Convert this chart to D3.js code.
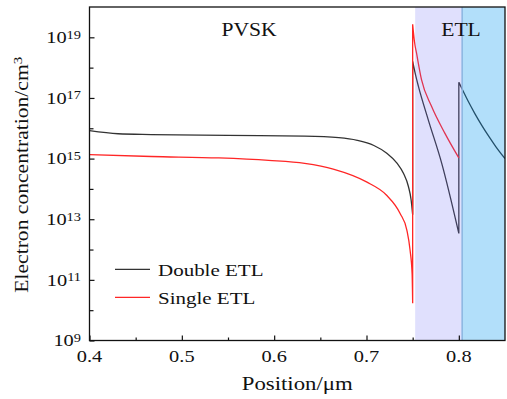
<!DOCTYPE html>
<html>
<head>
<meta charset="utf-8">
<script src="https://cdn.jsdelivr.net/npm/d3@7"></script>
<style>
body { margin: 0; background: #fff; }
</style>
</head>
<body>
<script>
// values (position in um, concentration in cm^-3)
// a repeated x means a vertical jump in the curve
var doubleX = [0.400, 0.431, 0.467, 0.550, 0.633, 0.670, 0.690, 0.708, 0.722, 0.733, 0.740, 0.7454, 0.7483, 0.750,
               0.750, 0.753, 0.7561, 0.7669, 0.7814, 0.800,
               0.800, 0.805, 0.810, 0.8175, 0.825, 0.8325, 0.840, 0.850];
var doubleY = [8.3e15, 6.6e15, 6.2e15, 5.8e15, 5.5e15, 4.9e15, 4.0e15, 2.7e15, 1.5e15, 7.1e14, 3.3e14, 1.2e14, 4.4e13, 1.4e13,
               1.6e18, 6.0e17, 2.5e17, 1.9e16, 7.1e14, 3.4e12,
               3.3e17, 1.6e17, 7.9e16, 3.0e16, 1.23e16, 5.4e15, 2.5e15, 1.0e15];

var singleX = [0.400, 0.467, 0.540, 0.594, 0.633, 0.664, 0.700, 0.7215, 0.7364, 0.7437, 0.7472, 0.7494, 0.750,
               0.750, 0.752, 0.7541, 0.7595, 0.7703, 0.7848, 0.800];
var singleY = [1.35e15, 1.17e15, 1.05e15, 8.7e14, 6.9e14, 4.5e14, 1.7e14, 6.3e13, 1.55e13, 4.4e12, 9.5e11, 1.6e11, 1.7e10,
               2.7e19, 7.0e18, 3.1e18, 4.1e17, 5.4e16, 6.9e15, 1.05e15];

var seriesNames = ["Double ETL", "Single ETL"];
var regionNames = ["PVSK", "ETL"];
var shadeBounds = [0.7527, 0.8036, 0.85]; // lavender layer, then blue layer

var xTicks = [0.4, 0.5, 0.6, 0.7, 0.8];
var xMinorTicks = [0.45, 0.55, 0.65, 0.75];
var xTickLabels = ["0.4", "0.5", "0.6", "0.7", "0.8"];
var yLabelExps = [9, 11, 13, 15, 17, 19];
var yMinorExps = [10, 12, 14, 16, 18];

function init(){

    var w = 507;
    var h = 399;
    var left = 89.5, right = 505, top = 7, bottom = 340.5;
    var sx = 1.2; // the original font is wide, stretch the text a bit
    var font = "'Liberation Serif', 'Times New Roman', 'DejaVu Serif', serif";

    var svg = d3.select("body")
            .append("svg")
            .attr("width", w)
            .attr("height", h);

    var x = d3.scaleLinear().domain([0.4, 0.85]).range([left, right]);
    var y = d3.scaleLog().domain([1e9, 1e20]).range([bottom, top]);

    svg.append("clipPath").attr("id", "plotclip")
        .append("rect")
        .attr("x", left).attr("y", top)
        .attr("width", right - left).attr("height", bottom - top);

    // split a series where x repeats, draw every piece smooth and join with straight jumps
    function seriesPath(xs, ys){
        var line = d3.line()
            .x(function(d){ return x(d[0]); })
            .y(function(d){ return y(d[1]); })
            .curve(d3.curveMonotoneX);
        var segs = [], cur = [];
        for (var i = 0; i < xs.length; i++){
            if (i > 0 && xs[i] === xs[i - 1]){ segs.push(cur); cur = []; }
            cur.push([xs[i], ys[i]]);
        }
        segs.push(cur);
        return segs.map(function(s, k){
            var p = line(s);
            return k ? "L" + p.slice(1) : p;
        }).join("");
    }

    var plot = svg.append("g").attr("clip-path", "url(#plotclip)");

    plot.append("path")
        .attr("d", seriesPath(doubleX, doubleY))
        .attr("fill", "none")
        .attr("stroke", "#333")
        .attr("stroke-width", 1.3);

    plot.append("path")
        .attr("d", seriesPath(singleX, singleY))
        .attr("fill", "none")
        .attr("stroke", "#ff2626")
        .attr("stroke-width", 1.3);

    // ETL shading sits on top of the lines (semi transparent)
    plot.append("rect")
        .attr("x", x(shadeBounds[0])).attr("y", top)
        .attr("width", x(shadeBounds[1]) - x(shadeBounds[0])).attr("height", bottom - top)
        .attr("fill", "rgb(110,110,245)").attr("fill-opacity", 0.21);
    plot.append("rect")
        .attr("x", x(shadeBounds[1])).attr("y", top)
        .attr("width", x(shadeBounds[2]) - x(shadeBounds[1])).attr("height", bottom - top)
        .attr("fill", "rgb(0,150,240)").attr("fill-opacity", 0.3);
    plot.append("line")
        .attr("x1", x(shadeBounds[1])).attr("x2", x(shadeBounds[1]))
        .attr("y1", top).attr("y2", bottom)
        .attr("stroke", "#8ab6e0").attr("stroke-width", 1.5);

    // ticks point inward, labels drawn by hand below
    svg.append("g")
        .attr("transform", "translate(0," + bottom + ")")
        .call(d3.axisBottom(x).tickValues(xTicks).tickSize(-5).tickFormat(""))
        .call(function(g){ g.select(".domain").remove(); });
    svg.append("g")
        .attr("transform", "translate(0," + bottom + ")")
        .call(d3.axisBottom(x).tickValues(xMinorTicks).tickSize(-3).tickFormat(""))
        .call(function(g){ g.select(".domain").remove(); });
    svg.append("g")
        .attr("transform", "translate(" + left + ",0)")
        .call(d3.axisLeft(y).tickValues(yLabelExps.map(function(e){ return Math.pow(10, e); })).tickSize(-5).tickFormat(""))
        .call(function(g){ g.select(".domain").remove(); });
    svg.append("g")
        .attr("transform", "translate(" + left + ",0)")
        .call(d3.axisLeft(y).tickValues(yMinorExps.map(function(e){ return Math.pow(10, e); })).tickSize(-4).tickFormat(""))
        .call(function(g){ g.select(".domain").remove(); });
    svg.selectAll(".tick line").attr("stroke", "#111").attr("stroke-width", 1.2);

    svg.append("rect")
        .attr("x", left).attr("y", top)
        .attr("width", right - left).attr("height", bottom - top)
        .attr("fill", "none")
        .attr("stroke", "#111")
        .attr("stroke-width", 1.3);

    function addText(px, py, str, anchor, size){
        return svg.append("text")
            .attr("transform", "translate(" + px + "," + py + ") scale(" + sx + ",1)")
            .attr("text-anchor", anchor)
            .attr("font-family", font)
            .attr("font-size", size || 17)
            .attr("fill", "#111")
            .text(str);
    }

    xTicks.forEach(function(v, i){
        addText(x(v), 361.5, xTickLabels[i], "middle");
    });

    yLabelExps.forEach(function(e){
        var t = addText(81, y(Math.pow(10, e)) + 5.8, "", "end");
        t.append("tspan").text("10");
        t.append("tspan").attr("font-size", 12).attr("dy", -4.5).text(e);
    });

    addText((left + right) / 2, 389.5, "Position/\u03bcm", "middle", 19);

    var yl = svg.append("text")
        .attr("transform", "translate(27.5," + ((top + bottom) / 2 + 1) + ") rotate(-90) scale(" + sx + ",1)")
        .attr("text-anchor", "middle")
        .attr("font-family", font)
        .attr("font-size", 18)
        .attr("fill", "#111");
    yl.append("tspan").text("Electron concentration/cm");
    yl.append("tspan").attr("font-size", 12.5).attr("dy", -5.5).text("3");

    addText(249, 36, regionNames[0], "middle", 18);
    addText(461, 35.7, regionNames[1], "middle", 18);

    // legend
    var legColors = ["#333", "#ff2626"];
    seriesNames.forEach(function(name, i){
        var ly = 269.3 + i * 28;
        svg.append("line")
            .attr("x1", 115).attr("x2", 150)
            .attr("y1", ly).attr("y2", ly)
            .attr("stroke", legColors[i])
            .attr("stroke-width", 1.3);
        addText(158, ly + 6.3, name, "start", 17.5);
    });
}
window.onload = init;
</script>
</body>
</html>
